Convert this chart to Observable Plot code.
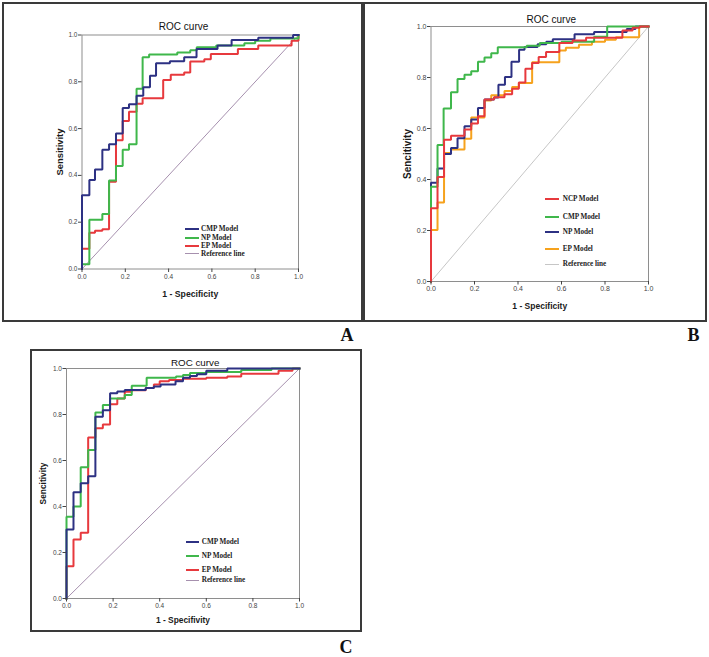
<!DOCTYPE html>
<html>
<head>
<meta charset="utf-8">
<script src="https://cdn.jsdelivr.net/npm/d3@7"></script>
<script src="https://cdn.jsdelivr.net/npm/@observablehq/plot@0.6"></script>
<style>
  html, body { margin: 0; padding: 0; background: #fff; }
  #wrap { position: relative; width: 709px; height: 657px; overflow: hidden; background: #fff; }
  .box { position: absolute; border: 2px solid #3a3a3a; box-sizing: border-box; }
  .letter { position: absolute; font-family: "Liberation Serif", "Times New Roman", serif; font-weight: bold; font-size: 18px; line-height: 14px; color: #111; transform: translateX(-50%); }
  .seg { position: absolute; }
  .legtxt { position: absolute; font-family: "Liberation Serif", "Times New Roman", serif; font-weight: bold; font-size: 7.2px; line-height: 8px; color: #222; white-space: nowrap; transform: translateY(-50%); }
</style>
</head>
<body>
<div id="wrap"></div>
<script>
// ---------- data ----------
const ticks = [0, 0.2, 0.4, 0.6, 0.8, 1.0];
const refLine = [[0, 0], [1, 1]];

// Panel A
const A_CMP = [[0,0],[0,0.315],[0.034,0.38],[0.06,0.425],[0.094,0.51],[0.125,0.533],[0.157,0.579],[0.188,0.688],[0.217,0.704],[0.252,0.74],[0.283,0.777],[0.314,0.826],[0.342,0.879],[0.406,0.888],[0.472,0.905],[0.529,0.94],[0.626,0.955],[0.691,0.979],[0.814,0.988],[0.975,1.0],[1,1]];
const A_NP  = [[0,0],[0,0.02],[0.034,0.21],[0.094,0.235],[0.125,0.378],[0.157,0.44],[0.188,0.51],[0.217,0.533],[0.252,0.77],[0.28,0.905],[0.31,0.917],[0.44,0.925],[0.5,0.935],[0.53,0.948],[0.62,0.955],[0.75,0.965],[0.8,0.975],[0.87,0.985],[1,1]];
const A_EP  = [[0,0],[0,0.087],[0.034,0.155],[0.06,0.163],[0.094,0.17],[0.125,0.373],[0.157,0.55],[0.188,0.633],[0.217,0.672],[0.252,0.706],[0.28,0.73],[0.375,0.808],[0.41,0.83],[0.472,0.84],[0.5,0.887],[0.565,0.896],[0.595,0.919],[0.72,0.94],[0.814,0.955],[0.968,0.975],[1,1]];

// Panel B
const B_NCP = [[0,0],[0,0.287],[0.03,0.41],[0.06,0.556],[0.092,0.572],[0.154,0.596],[0.185,0.62],[0.216,0.648],[0.246,0.714],[0.29,0.723],[0.338,0.734],[0.373,0.756],[0.404,0.78],[0.434,0.834],[0.465,0.857],[0.495,0.88],[0.529,0.9],[0.59,0.935],[0.651,0.945],[0.713,0.956],[0.88,0.984],[0.927,0.995],[0.96,1.0],[1,1]];
const B_CMP = [[0,0],[0,0.372],[0.03,0.535],[0.058,0.678],[0.092,0.742],[0.122,0.794],[0.154,0.811],[0.185,0.825],[0.216,0.862],[0.246,0.878],[0.277,0.895],[0.307,0.919],[0.44,0.925],[0.5,0.935],[0.6,0.94],[0.75,0.96],[0.81,1.0],[1,1]];
const B_NP  = [[0,0],[0,0.387],[0.03,0.443],[0.06,0.5],[0.092,0.524],[0.122,0.562],[0.154,0.609],[0.185,0.635],[0.216,0.68],[0.246,0.714],[0.29,0.722],[0.31,0.772],[0.34,0.802],[0.37,0.862],[0.405,0.909],[0.43,0.92],[0.49,0.93],[0.53,0.94],[0.56,0.95],[0.66,0.97],[0.75,0.978],[0.9,0.99],[0.94,1.0],[1,1]];
const B_EP  = [[0,0],[0,0.202],[0.03,0.31],[0.06,0.504],[0.092,0.518],[0.154,0.56],[0.185,0.643],[0.246,0.71],[0.277,0.73],[0.338,0.747],[0.373,0.763],[0.404,0.778],[0.465,0.86],[0.59,0.906],[0.62,0.917],[0.68,0.928],[0.74,0.94],[0.8,0.948],[0.85,0.958],[0.957,1.0],[1,1]];

// Panel C
const C_CMP = [[0,0],[0,0.3],[0.03,0.462],[0.061,0.501],[0.093,0.532],[0.124,0.79],[0.156,0.819],[0.187,0.892],[0.218,0.9],[0.25,0.907],[0.34,0.915],[0.375,0.922],[0.404,0.93],[0.468,0.945],[0.5,0.96],[0.53,0.967],[0.56,0.975],[0.6,0.99],[0.69,1.0],[1,1]];
const C_NP  = [[0,0],[0,0.355],[0.03,0.4],[0.061,0.571],[0.093,0.646],[0.124,0.809],[0.156,0.841],[0.187,0.87],[0.25,0.885],[0.28,0.925],[0.344,0.96],[0.47,0.965],[0.5,0.972],[0.53,0.98],[0.6,0.985],[0.75,0.993],[0.88,1.0],[1,1]];
const C_EP  = [[0,0],[0,0.14],[0.03,0.256],[0.061,0.286],[0.093,0.70],[0.124,0.74],[0.156,0.756],[0.187,0.845],[0.218,0.87],[0.25,0.899],[0.28,0.905],[0.34,0.915],[0.375,0.93],[0.4,0.945],[0.44,0.95],[0.5,0.955],[0.6,0.96],[0.69,0.965],[0.75,0.977],[0.91,0.99],[0.97,1.0],[1,1]];

// ---------- styles ----------
const NAVY = "#2d3183", GREEN = "#3fb74b", RED = "#e7393d", ORANGE = "#f6a21d";
const REF_PURPLE = "#a690ae", REF_GRAY = "#c6c6c6";

const panels = [
  {
    plot: [81.5, 298, 34.5, 268.5],
    box: [2, 2, 361, 320],
    letter: ["A", 347, 341],
    title: "ROC curve", titleOff: [-6.7, -7.8], titleSize: 10,
    ylabel: "Sensitivity", ylabelDx: -22.2, ylabelSize: 9.4,
    xlabel: "1 - Specificity", xlabelDy: 24.8, xlabelSize: 8.7,
    tickSize: 6.5,
    refColor: REF_PURPLE,
    series: [
      {name: "CMP Model", data: A_CMP, color: NAVY},
      {name: "NP Model", data: A_NP, color: GREEN},
      {name: "EP Model", data: A_EP, color: RED}
    ],
    legend: {segX: 185, segW: 14.3, textX: 201, rows: [228.7, 237.7, 245.7, 253.7]}
  },
  {
    plot: [430.5, 648, 26, 281],
    box: [363, 2, 344, 320],
    letter: ["B", 693.5, 341],
    title: "ROC curve", titleOff: [11.5, -6.7], titleSize: 10,
    ylabel: "Sencitivity", ylabelDx: -22.8, ylabelSize: 10,
    xlabel: "1 - Specificity", xlabelDy: 25, xlabelSize: 8.5,
    tickSize: 7,
    refColor: REF_GRAY,
    series: [
      {name: "NCP Model", data: B_NCP, color: RED},
      {name: "CMP Model", data: B_CMP, color: GREEN},
      {name: "NP Model", data: B_NP, color: NAVY},
      {name: "EP Model", data: B_EP, color: ORANGE}
    ],
    legend: {segX: 545, segW: 14.3, textX: 562.7, rows: [199.3, 216.7, 232.3, 249.3, 264]}
  },
  {
    plot: [66, 299, 368, 598],
    box: [30, 349, 332, 283],
    letter: ["C", 346, 653.5],
    title: "ROC curve", titleOff: [12.2, -5.6], titleSize: 9.8,
    ylabel: "Sencitivity", ylabelDx: -23.3, ylabelSize: 8.4,
    xlabel: "1 - Specifivity", xlabelDy: 21.3, xlabelSize: 8.4,
    tickSize: 6.5,
    refColor: REF_PURPLE,
    series: [
      {name: "CMP Model", data: C_CMP, color: NAVY},
      {name: "NP Model", data: C_NP, color: GREEN},
      {name: "EP Model", data: C_EP, color: RED}
    ],
    legend: {segX: 185.7, segW: 13.3, textX: 201.7, rows: [542.3, 555.7, 570, 580]}
  }
];

const W = 709, H = 657;
const wrap = document.getElementById("wrap");
const fmt = d3.format(".1f");

for (const p of panels) {
  // panel box
  const box = document.createElement("div");
  box.className = "box";
  Object.assign(box.style, {left: p.box[0] + "px", top: p.box[1] + "px", width: p.box[2] + "px", height: p.box[3] + "px"});
  wrap.appendChild(box);

  const [x0, x1, y0, y1] = p.plot;
  const svg = Plot.plot({
    width: W, height: H,
    marginLeft: x0, marginRight: W - x1, marginTop: y0, marginBottom: H - y1,
    x: {domain: [0, 1]},
    y: {domain: [0, 1]},
    style: {background: "transparent", color: "#444", fontFamily: "'Liberation Sans', Arial, sans-serif", overflow: "visible"},
    marks: [
      Plot.frame({stroke: "#8e8e8e", strokeWidth: 1}),
      Plot.line(refLine, {x: d => d[0], y: d => d[1], stroke: p.refColor, strokeWidth: 1}),
      ...p.series.slice().reverse().map(s => Plot.line(s.data, {
        x: d => d[0], y: d => d[1], curve: "step-after",
        stroke: s.color, strokeWidth: 2, strokeLinejoin: "miter", strokeLinecap: "square"
      })),
      Plot.axisX({ticks, tickFormat: fmt, tickSize: 3.5, tickPadding: 1.5, fontSize: p.tickSize, label: null}),
      Plot.axisY({ticks, tickFormat: fmt, tickSize: 3.5, tickPadding: 1, fontSize: p.tickSize, label: null}),
      Plot.text([p.title], {frameAnchor: "top", text: d => d, dx: p.titleOff[0], dy: p.titleOff[1],
        lineAnchor: "middle", fontSize: p.titleSize, fill: "#111"}),
      Plot.text([p.ylabel], {frameAnchor: "left", text: d => d, dx: p.ylabelDx, rotate: -90,
        textAnchor: "middle", lineAnchor: "middle", fontSize: p.ylabelSize, fontWeight: "bold", fill: "#1a1a1a"}),
      Plot.text([p.xlabel], {frameAnchor: "bottom", text: d => d, dy: p.xlabelDy,
        textAnchor: "middle", lineAnchor: "middle", fontSize: p.xlabelSize, fontWeight: "bold", fill: "#1a1a1a"})
    ]
  });
  svg.style.position = "absolute";
  svg.style.left = "0px";
  svg.style.top = "0px";
  svg.style.maxWidth = "none";
  wrap.appendChild(svg);

  // legend (HTML)
  const items = p.series.map(s => ({name: s.name, color: s.color, w: 2}))
    .concat([{name: "Reference line", color: p.refColor, w: 1}]);
  items.forEach((it, i) => {
    const yc = p.legend.rows[i];
    const seg = document.createElement("div");
    seg.className = "seg";
    Object.assign(seg.style, {left: p.legend.segX + "px", top: (yc - it.w / 2) + "px", width: p.legend.segW + "px", height: it.w + "px", background: it.color});
    wrap.appendChild(seg);
    const t = document.createElement("div");
    t.className = "legtxt";
    t.textContent = it.name;
    Object.assign(t.style, {left: p.legend.textX + "px", top: yc + "px"});
    wrap.appendChild(t);
  });

  // panel letter (baseline at p.letter[2])
  const L = document.createElement("div");
  L.className = "letter";
  L.textContent = p.letter[0];
  Object.assign(L.style, {left: p.letter[1] + "px", top: (p.letter[2] - 13.1) + "px"});
  wrap.appendChild(L);
}
</script>
</body>
</html>
